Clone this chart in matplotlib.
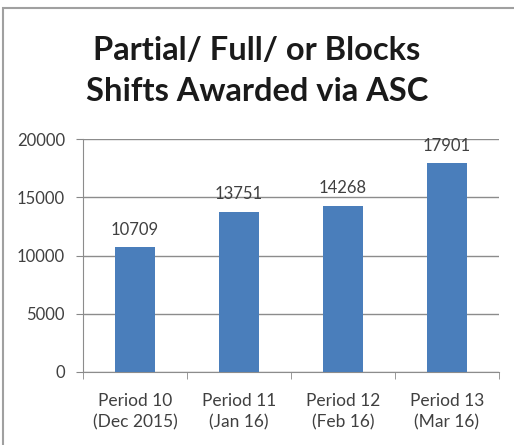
import matplotlib.pyplot as plt
from matplotlib.patches import Rectangle
from matplotlib.ticker import FixedLocator

periods = ["Period 10\n(Dec 2015)", "Period 11\n(Jan 16)", "Period 12\n(Feb 16)", "Period 13\n(Mar 16)"]
shifts = [10709, 13751, 14268, 17901]
yticks = [0, 5000, 10000, 15000, 20000]

plt.rcParams["font.family"] = ["Lato", "DejaVu Sans"]
text_col = "#404040"
bar_col = "#4a7ebb"

fig = plt.figure(figsize=(5.14, 4.45), dpi=100)
fig.patches.append(Rectangle((3 / 514, -0.01), 1.0, 1 - 8 / 445 + 0.01, transform=fig.transFigure,
                             fill=False, edgecolor="#a0a0a0", linewidth=1.5))

ax = fig.add_axes([83 / 514, 1 - 372 / 445, (499 - 83) / 514, (372 - 139) / 445])
x = list(range(len(periods)))
ax.bar(x, shifts, width=0.39, color=bar_col, zorder=3)
for xi, v in zip(x, shifts):
    ax.annotate(str(v), (xi, v), xytext=(0, 7), textcoords="offset points",
                ha="center", va="bottom", fontsize=12, color=text_col)

ax.set_xlim(-0.5, 3.5)
ax.set_ylim(0, 20000)
ax.set_yticks(yticks)
ax.set_yticklabels([str(t) for t in yticks], fontsize=12, color=text_col)
ax.set_xticks(x)
ax.set_xticklabels(periods, fontsize=12.5, color=text_col, linespacing=1.4)
ax.xaxis.set_minor_locator(FixedLocator([-0.5, 0.5, 1.5, 2.5, 3.5]))
ax.tick_params(axis="x", which="major", length=0, pad=15)
ax.tick_params(axis="x", which="minor", length=5, color="#888888")
ax.tick_params(axis="y", length=5, color="#888888", pad=8)
ax.grid(axis="y", color="#8c8c8c", linewidth=1, zorder=0)
for s in ["top", "right"]:
    ax.spines[s].set_visible(False)
for s in ["left", "bottom"]:
    ax.spines[s].set_color("#8c8c8c")

fig.text(257 / 514, 1 - 71 / 445, "Partial/ Full/ or Blocks\nShifts Awarded via ASC", ha="center", va="center",
         fontsize=23.5, fontweight="bold", color="#1a1a1a", linespacing=1.5)

fig.savefig("out.png", dpi=100)
